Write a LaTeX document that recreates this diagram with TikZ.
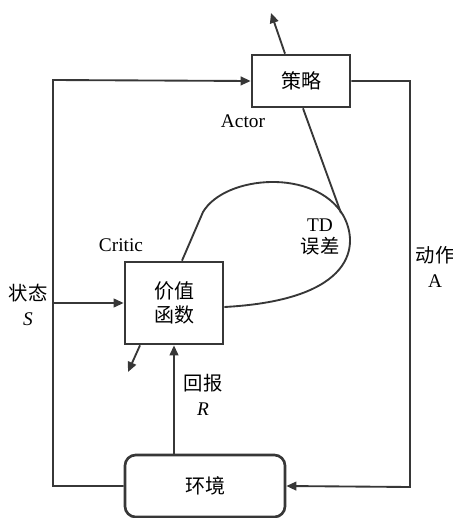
\documentclass[tikz,border=0pt]{standalone}
\usepackage{fontspec}
\setmainfont{Liberation Serif}
\newfontfamily\cjk{Noto Sans CJK SC}
\usepackage{tikz}
\usetikzlibrary{arrows.meta, calc}
\definecolor{ink}{RGB}{55, 55, 55}

\begin{document}
\begin{tikzpicture}[x=0.75pt, y=-0.75pt, line width=1.4pt, draw=ink,
  box/.style={draw=ink, line width=2pt, fill=white, inner sep=0pt, align=center,
    font=\fontsize{15}{17.5}\selectfont\cjk},
  lbl/.style={text=black, inner sep=1pt, align=center, font=\fontsize{14.5}{19}\selectfont},
  arr/.style={-{Triangle[length=7.5pt, width=6.5pt]}, ink}]

\useasboundingbox (0, 0) rectangle (453, 518);

% the three blocks
\node[box, minimum width=73.5pt, minimum height=39pt] (actor) at (301, 81) {策略};
\node[box, minimum width=73.5pt, minimum height=61.5pt] (critic) at (174, 303) {价值\\函数};
\node[box, rounded corners=8pt, minimum width=120pt, minimum height=46.5pt] (env) at (205, 486) {环境};

% corners of the loop
\coordinate (lefttop) at (53, 80);
\coordinate (leftstate) at (53, 303);
\coordinate (rightbot) at (410, 487);
\coordinate (actorout) at (271, 13);
\coordinate (criticout) at (128, 372);
\coordinate (tdtouch) at (341, 213);

\draw[arr] (env.west) -| (lefttop) -- (actor.west);
\draw[arr] (leftstate) -- (critic.west);
\draw[arr] (actor.east) -| (rightbot) -- (env.east);
\draw[arr] (critic.south |- env.north) -- (critic.south);
\draw[arr] ($(actor.north)+(-16, 0)$) -- (actorout);
\draw[arr] ($(critic.south)+(-34, 0)$) -- (criticout);

% TD error loop
\draw ($(critic.north)+(8, 0)$) -- (203, 212)
  .. controls (225, 175) and (315, 168) .. (343, 215)
  .. controls (360, 245) and (355, 300) .. ($(critic.east)+(0, 4)$);
\draw ($(actor.south)+(2, 0)$) -- (tdtouch);

% labels
\node[lbl] (actorlbl) at (243, 121) {Actor};
\node[lbl] (criticlbl) at (121, 245) {Critic};
\node[lbl, font=\fontsize{14.5}{16.5}\selectfont] (tdlbl) at (320, 237) {TD\\{\cjk 误差}};
\node[lbl] (statelbl) at (28, 305) {{\cjk 状态}\\\textit{S}};
\node[lbl] (actionlbl) at (435, 267) {{\cjk 动作}\\A};
\node[lbl] (rewardlbl) at (203, 395) {{\cjk 回报}\\\textit{R}};
\end{tikzpicture}
\end{document}
